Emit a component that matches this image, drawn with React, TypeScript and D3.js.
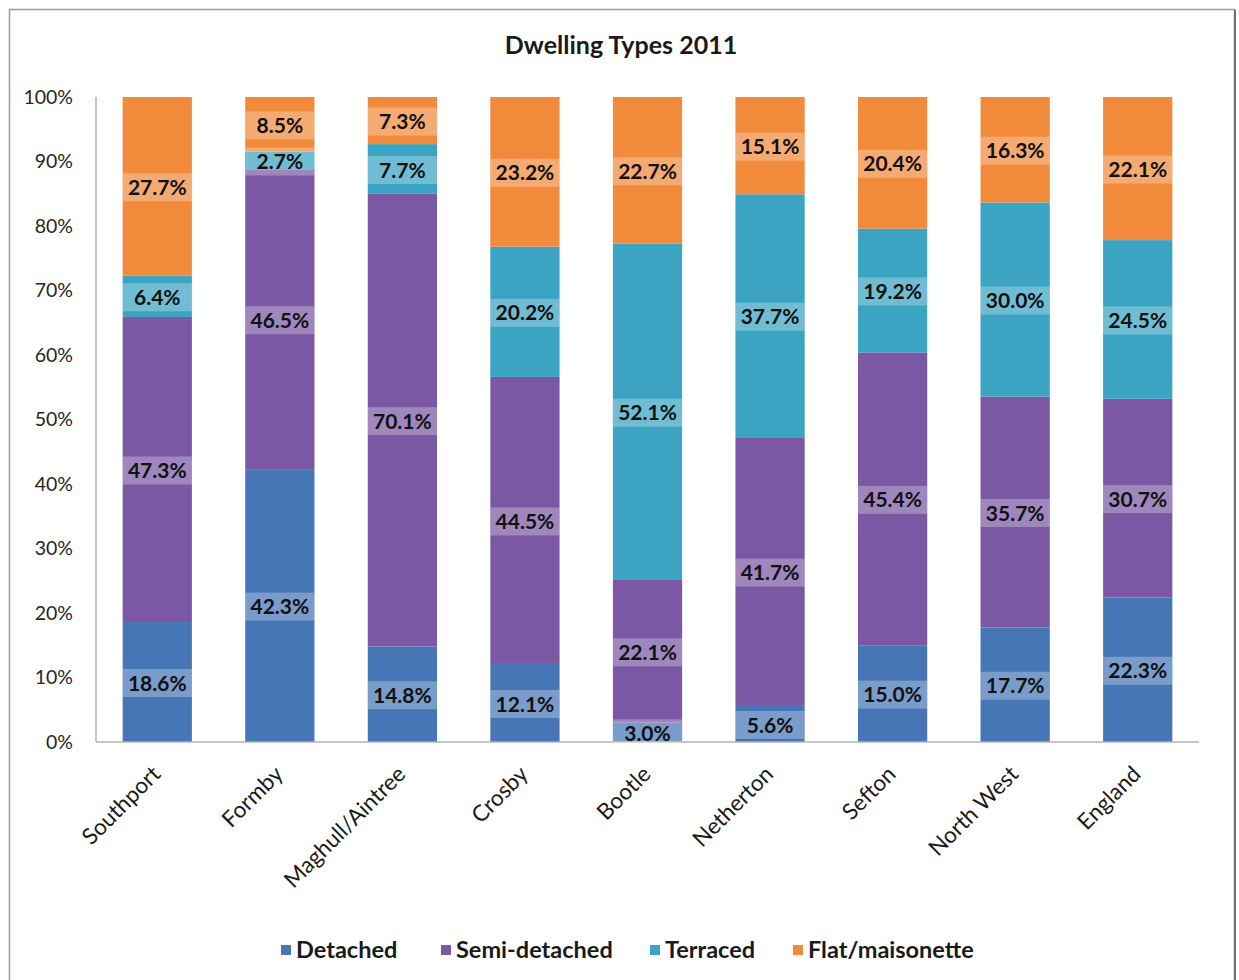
import React from "react";
import * as d3 from "d3";

const categories = ["Southport", "Formby", "Maghull/Aintree", "Crosby", "Bootle", "Netherton", "Sefton", "North West", "England"];
const seriesNames = ["Detached", "Semi-detached", "Terraced", "Flat/maisonette"];
const detached = [18.6, 42.3, 14.8, 12.1, 3.0, 5.6, 15.0, 17.7, 22.3];
const semiDetached = [47.3, 46.5, 70.1, 44.5, 22.1, 41.7, 45.4, 35.7, 30.7];
const terraced = [6.4, 2.7, 7.7, 20.2, 52.1, 37.7, 19.2, 30.0, 24.5];
const flat = [27.7, 8.5, 7.3, 23.2, 22.7, 15.1, 20.4, 16.3, 22.1];
const yTicks = [0, 10, 20, 30, 40, 50, 60, 70, 80, 90, 100];
const colors = ["#4676B6", "#7B58A4", "#3AA4C2", "#F28A3B"];

const W = 1239;
const H = 980;
const FONT = "Lato, 'Open Sans', sans-serif";

export default function App() {
  const left = 96, right = 1199, top = 97, bottom = 742;
  const x = d3.scaleBand<string>().domain(categories).range([left, right]).paddingInner(0.435).paddingOuter(0.2175);
  const y = d3.scaleLinear().domain([0, 1]).range([bottom, top]);
  const seriesVals = [detached, semiDetached, terraced, flat];
  const rows = categories.map((c, i) => {
    const vals = seriesVals.map((s) => s[i]);
    const total = d3.sum(vals);
    const o: any = { cat: c };
    seriesNames.forEach((n, k) => (o[n] = vals[k] / total));
    return o;
  });
  const stack = d3.stack<any>().keys(seriesNames)(rows);
  const bw = x.bandwidth();

  const legendItems = [
    { name: "Detached", sx: 281 },
    { name: "Semi-detached", sx: 441 },
    { name: "Terraced", sx: 650 },
    { name: "Flat/maisonette", sx: 793 },
  ];

  return (
    <svg width={W} height={H} style={{ position: "absolute", left: 0, top: 0, background: "#fff" }} fontFamily={FONT}>
      <rect x={9.5} y={9.5} width={1225} height={1000} fill="#fff" stroke="#9a9a9a" strokeWidth={1.5} />
      <line x1={1235} y1={10} x2={1235} y2={980} stroke="#6f6f6f" strokeWidth={2} />
      <text x={621} y={45} dy="0.35em" textAnchor="middle" fontSize={25} fontWeight="bold" fill="#1a1a1a">Dwelling Types 2011</text>

      {yTicks.map((t) => (
        <text key={t} x={73} y={y(t / 100)} dy="0.35em" textAnchor="end" fontSize={19.5} fill="#262626">{t}%</text>
      ))}

      {stack.map((layer, k) => (
        <g key={layer.key} fill={colors[k]}>
          {layer.map((d, i) => (
            <rect key={i} x={x(categories[i])} y={y(d[1])} width={bw} height={y(d[0]) - y(d[1])} />
          ))}
        </g>
      ))}

      <line x1={left} y1={top} x2={left} y2={bottom} stroke="#b3b3b3" strokeWidth={1.5} />
      <line x1={left} y1={bottom} x2={right} y2={bottom} stroke="#b3b3b3" strokeWidth={1.5} />

      {stack.map((layer, k) => (
        <g key={"l" + layer.key}>
          {layer.map((d, i) => {
            const cy = (y(d[0]) + y(d[1])) / 2 + 1;
            const cx = (x(categories[i]) as number) + bw / 2;
            return (
              <g key={i}>
                <rect x={cx - bw / 2} y={cy - 14} width={bw} height={28} fill="#ffffff" fillOpacity={0.28} />
                <text x={cx} y={cy} dy="0.36em" textAnchor="middle" fontSize={21} fontWeight="bold" fill="#111">
                  {seriesVals[k][i].toFixed(1)}%
                </text>
              </g>
            );
          })}
        </g>
      ))}

      {categories.map((c) => {
        const cx = (x(c) as number) + bw / 2;
        return (
          <text key={c} transform={`translate(${cx - 1},${770}) rotate(-45)`} textAnchor="end" fontSize={22.5} fill="#1a1a1a" dy="0.35em">
            {c}
          </text>
        );
      })}

      {legendItems.map((l, k) => (
        <g key={l.name}>
          <rect x={l.sx} y={945} width={10} height={10} fill={colors[k]} />
          <text x={l.sx + 15} y={950} dy="0.36em" fontSize={23.5} fontWeight="bold" fill="#1a1a1a">{l.name}</text>
        </g>
      ))}
    </svg>
  );
}
